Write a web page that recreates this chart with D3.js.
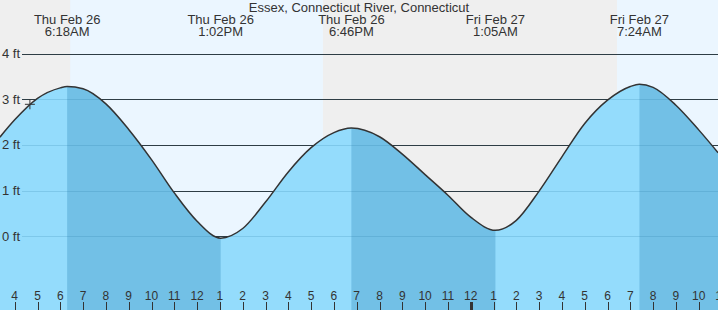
<!DOCTYPE html>
<html>
<head>
<meta charset="utf-8">
<script src="https://cdn.jsdelivr.net/npm/d3@7"></script>
<style>
  body { margin: 0; background: #fff; }
  svg { display: block; font-family: Arial, "Liberation Sans", sans-serif; }
</style>
</head>
<body>
<div id="chart"></div>
<script>
// water level readings (ft), times local
const tideTimes = [
  "2026-02-26 03:21", "2026-02-26 04:00", "2026-02-26 05:00", "2026-02-26 06:00",
  "2026-02-26 06:18", "2026-02-26 07:00", "2026-02-26 08:00", "2026-02-26 09:00",
  "2026-02-26 10:00", "2026-02-26 11:00", "2026-02-26 12:00", "2026-02-26 13:02",
  "2026-02-26 14:00", "2026-02-26 15:00", "2026-02-26 16:00", "2026-02-26 17:00",
  "2026-02-26 18:00", "2026-02-26 18:46", "2026-02-26 20:00", "2026-02-26 21:00",
  "2026-02-26 22:00", "2026-02-26 23:00", "2026-02-27 00:00", "2026-02-27 01:05",
  "2026-02-27 02:00", "2026-02-27 03:00", "2026-02-27 04:00", "2026-02-27 05:00",
  "2026-02-27 06:00", "2026-02-27 07:00", "2026-02-27 07:24", "2026-02-27 08:00",
  "2026-02-27 09:00", "2026-02-27 10:00", "2026-02-27 10:51"
];
const tideLevels = [
  2.17, 2.55, 3.02, 3.25,
  3.28, 3.23, 2.90, 2.34,
  1.68, 0.95, 0.33, -0.04,
  0.17, 0.75, 1.41, 1.94,
  2.27, 2.37, 2.18, 1.80,
  1.35, 0.90, 0.42, 0.13,
  0.35, 0.99, 1.74, 2.47,
  2.98, 3.28, 3.33, 3.26,
  2.87, 2.33, 1.83
];

// high / low tides
const extremeTimes = ["2026-02-26 06:18", "2026-02-26 13:02", "2026-02-26 18:46", "2026-02-27 01:05", "2026-02-27 07:24"];
const extremeTypes = ["H", "L", "H", "L", "H"];
const extremeDays = ["Thu Feb 26", "Thu Feb 26", "Thu Feb 26", "Fri Feb 27", "Fri Feb 27"];
const extremeClock = ["6:18AM", "1:02PM", "6:46PM", "1:05AM", "7:24AM"];

// daylight
const sunrises = ["2026-02-26 06:26", "2026-02-27 06:25"];
const sunsets = ["2026-02-26 17:31", "2026-02-27 18:30"];

const feetTicks = [0, 1, 2, 3, 4];
const hourStart = "2026-02-26 04:00";
const hourEnd = "2026-02-27 11:00";
const currentTime = "2026-02-26 04:40";
const currentLevel = 2.89;

const title = "Essex, Connecticut River, Connecticut";

const parse = d3.timeParse("%Y-%m-%d %H:%M");
const data = tideTimes.map((t, i) => ({ date: parse(t), level: tideLevels[i] }));

const width = 718, height = 310;

const x = d3.scaleTime()
  .domain([new Date(2026, 1, 26, 3, 21, 19), new Date(2026, 1, 27, 10, 50, 45)])
  .range([0, width]);

const y = d3.scaleLinear().domain([0, 4]).range([236.3, 53.6]);

const svg = d3.select("#chart").append("svg")
  .attr("width", width)
  .attr("height", height);

// night background, then daylight bands
svg.append("rect").attr("width", width).attr("height", height).attr("fill", "#efefef");
sunrises.forEach((s, i) => {
  const x0 = Math.max(0, x(parse(s)));
  const x1 = Math.min(width, x(parse(sunsets[i])));
  svg.append("rect")
    .attr("x", x0).attr("y", 0)
    .attr("width", Math.max(0, x1 - x0)).attr("height", height)
    .attr("fill", "#ebf6ff");
});

// grid lines
const grid = svg.append("g");
grid.selectAll("line").data(feetTicks).enter().append("line")
  .attr("x1", 22).attr("x2", width)
  .attr("y1", d => Math.round(y(d)) + 0.5).attr("y2", d => Math.round(y(d)) + 0.5)
  .attr("stroke", "#333").attr("stroke-width", 1);

const curve = d3.curveMonotoneX;

// tide area
const area = d3.area()
  .x(d => x(d.date))
  .y0(height)
  .y1(d => y(d.level))
  .curve(curve);

svg.append("path").datum(data)
  .attr("d", area)
  .attr("fill", "#94dcfc");

// falling tide: from each high to the next low
const defs = svg.append("defs");
const clip = defs.append("clipPath").attr("id", "falling");
extremeTimes.forEach((t, i) => {
  if (extremeTypes[i] !== "H") return;
  const x0 = x(parse(t));
  const x1 = i + 1 < extremeTimes.length ? x(parse(extremeTimes[i + 1])) : width;
  clip.append("rect").attr("x", x0).attr("y", 0).attr("width", x1 - x0).attr("height", height);
});

svg.append("path").datum(data)
  .attr("d", area)
  .attr("clip-path", "url(#falling)")
  .attr("fill", "#72c0e6");

// faint grid lines showing through the water
svg.append("g").selectAll("line").data(feetTicks).enter().append("line")
  .attr("x1", 22).attr("x2", width)
  .attr("y1", d => Math.round(y(d)) + 0.5).attr("y2", d => Math.round(y(d)) + 0.5)
  .attr("stroke", "#1a6f9c").attr("stroke-opacity", 0.18);

// y labels on top
svg.append("g").selectAll("text").data(feetTicks).enter().append("text")
  .attr("x", 2).attr("y", d => y(d) + 4.5)
  .attr("font-size", 13).attr("fill", "#333")
  .text(d => d + " ft");

// tide curve
const line = d3.line()
  .x(d => x(d.date))
  .y(d => y(d.level))
  .curve(curve);

svg.append("path").datum(data)
  .attr("d", line)
  .attr("fill", "none")
  .attr("stroke", "#333")
  .attr("stroke-width", 1.5);

// current time marker
const cx = x(parse(currentTime)), cy = y(currentLevel);
svg.append("path")
  .attr("d", `M${cx - 5},${cy}H${cx + 5}M${cx},${cy - 5}V${cy + 5}`)
  .attr("stroke", "#333").attr("stroke-width", 1);

// title
svg.append("text")
  .attr("x", width / 2).attr("y", 12)
  .attr("text-anchor", "middle")
  .attr("font-size", 13).attr("fill", "#333")
  .text(title);

// extreme labels
const ext = svg.append("g").attr("fill", "#333").attr("font-size", 13).attr("text-anchor", "middle");
extremeTimes.forEach((t, i) => {
  const ex = x(parse(t));
  ext.append("text").attr("x", ex).attr("y", 23.5).text(extremeDays[i]);
  ext.append("text").attr("x", ex).attr("y", 35.5).text(extremeClock[i]);
});

// hour axis
const hours = d3.timeHour.range(parse(hourStart), d3.timeHour.offset(parse(hourEnd), 1));
const axis = svg.append("g");
axis.selectAll("line").data(hours).enter().append("line")
  .attr("x1", d => Math.round(x(d)) + 0.5).attr("x2", d => Math.round(x(d)) + 0.5)
  .attr("y1", 302).attr("y2", height)
  .attr("stroke", "#333")
  .attr("stroke-width", d => d.getHours() === 0 ? 3 : 1);
axis.selectAll("text").data(hours).enter().append("text")
  .attr("x", d => x(d)).attr("y", 300)
  .attr("text-anchor", "middle")
  .attr("font-size", 12).attr("fill", "#333")
  .text(d3.timeFormat("%-I"));
</script>
</body>
</html>
